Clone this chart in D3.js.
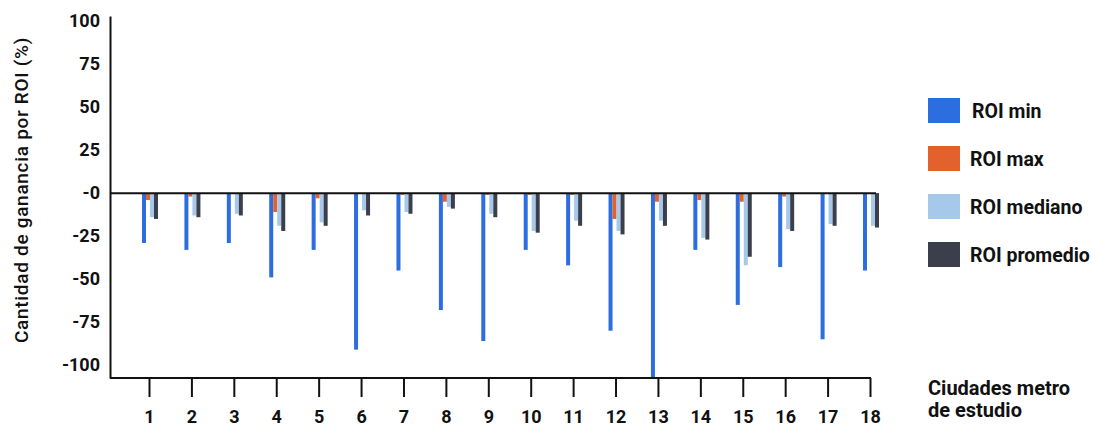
<!DOCTYPE html>
<html>
<head>
<meta charset="utf-8">
<script src="https://cdn.jsdelivr.net/npm/d3@7"></script>
<style>
	body { margin: 0; background: #fff; }
	svg text { font-family: Roboto, "Noto Sans", sans-serif; fill: #111; }
</style>
</head>
<body>
<svg id="roi-chart" width="1097" height="427"></svg>
<script>
// datos
var cities = ['1','2','3','4','5','6','7','8','9','10','11','12','13','14','15','16','17','18'];
var seriesNames = ['ROI min', 'ROI max', 'ROI mediano', 'ROI promedio'];
var roiMin      = [-29, -33, -29, -49, -33, -91, -45, -68, -86, -33, -42, -80, -108, -33, -65, -43, -85, -45];
var roiMax      = [-4, -2, 0, -11, -3, 0, -1, -5, -1, -1, -1, -15, -5, -4, -5, -2, 0, 0];
var roiMediano  = [-14, -13, -12, -19, -17, -10, -11, -8, -12, -22, -16, -22, -16, -26, -42, -21, -18, -19];
var roiPromedio = [-15, -14, -13, -22, -19, -13, -12, -9, -14, -23, -19, -24, -19, -27, -37, -22, -19, -20];
var yTicks = [100, 75, 50, 25, 0, -25, -50, -75, -100];
var yTickLabels = ['100', '75', '50', '25', '-0', '-25', '-50', '-75', '-100'];

var colors = ['#2c6de0', '#e2612c', '#a6c8ea', '#3a3f4b'];

function drawChart(){
	var svg = d3.select('#roi-chart');

	var series = [roiMin, roiMax, roiMediano, roiPromedio];

	var x = d3.scalePoint()
		.domain(cities)
		.range([149, 870]);

	var y = d3.scaleLinear()
		.domain([-107.5, 103])
		.range([378, 16]);

	var sub = d3.scaleBand()
		.domain(seriesNames)
		.range([-7, 9]);

	//barras
	var groups = svg.append('g')
		.attr('class', 'bars')
		.selectAll('g')
		.data(cities)
		.enter()
		.append('g')
		.attr('transform', (d)=>`translate(${x(d)},0)`);

	groups.selectAll('rect')
		.data(function(d, i){
			return series.map((s, k)=>({key : seriesNames[k], k : k, val : s[i]}));
		})
		.enter()
		.append('rect')
		.attr('x', (d)=>sub(d.key))
		.attr('width', sub.bandwidth())
		.attr('y', (d)=>y(Math.max(0, d.val)))
		.attr('height', (d)=>Math.abs(y(d.val) - y(0)))
		.attr('fill', (d)=>colors[d.k]);

	//eje y
	var yAxis = d3.axisLeft(y)
		.tickValues(yTicks)
		.tickFormat((d, i)=>yTickLabels[i])
		.tickSize(0)
		.tickPadding(10);

	var yG = svg.append('g')
		.attr('transform', 'translate(110,0)')
		.call(yAxis);
	yG.select('.domain').attr('stroke', '#111').attr('stroke-width', 2);
	yG.selectAll('text')
		.style('font-size', '18px')
		.style('font-weight', 'bold')
		.attr('fill', '#111');

	//linea cero
	svg.append('line')
		.attr('x1', 110)
		.attr('x2', 876)
		.attr('y1', y(0))
		.attr('y2', y(0))
		.attr('stroke', '#111')
		.attr('stroke-width', 2);

	//eje x
	var xAxis = d3.axisBottom(x)
		.tickSize(19)
		.tickSizeOuter(0)
		.tickPadding(13);

	var xG = svg.append('g')
		.attr('transform', `translate(0,${y.range()[0]})`)
		.call(xAxis);
	xG.select('.domain').remove();
	xG.selectAll('.tick line').attr('stroke', '#111').attr('stroke-width', 2);
	xG.selectAll('text')
		.style('font-size', '18px')
		.style('font-weight', 'bold')
		.attr('fill', '#111');

	svg.append('line')
		.attr('x1', 110)
		.attr('x2', 871)
		.attr('y1', y.range()[0])
		.attr('y2', y.range()[0])
		.attr('stroke', '#111')
		.attr('stroke-width', 2);

	//titulos
	svg.append('text')
		.attr('transform', 'translate(28,190) rotate(-90)')
		.attr('text-anchor', 'middle')
		.style('font-size', '19px')
		.style('font-weight', 500)
		.style('letter-spacing', '0.7px')
		.text('Cantidad de ganancia por ROI (%)');

	var xTitle = svg.append('text')
		.attr('x', 928)
		.attr('y', 395)
		.style('font-size', '20px')
		.style('font-weight', 'bold');
	xTitle.append('tspan').attr('x', 928).text('Ciudades metro');
	xTitle.append('tspan').attr('x', 928).attr('dy', 22).text('de estudio');

	//leyenda
	var legend = svg.append('g')
		.attr('class', 'legend')
		.selectAll('g')
		.data(seriesNames)
		.enter()
		.append('g')
		.attr('transform', (d, i)=>`translate(928,${98 + i * 48})`);

	legend.append('rect')
		.attr('width', 32)
		.attr('height', 25)
		.attr('fill', (d, i)=>colors[i]);

	legend.append('text')
		.attr('x', (d, i)=>i === 0 ? 44 : 42)
		.attr('y', 13)
		.attr('dy', '0.35em')
		.style('font-size', '19.5px')
		.style('font-weight', 'bold')
		.text((d)=>d);
}

drawChart();
</script>
</body>
</html>
